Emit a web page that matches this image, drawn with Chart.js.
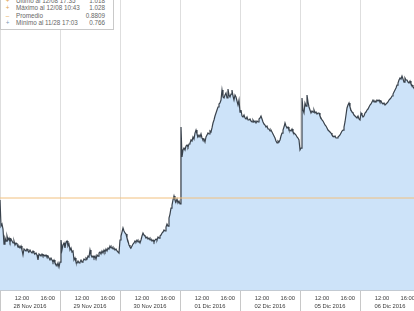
<!DOCTYPE html>
<html>
<head>
<meta charset="utf-8">
<script src="https://cdn.jsdelivr.net/npm/chart.js@4.4.1/dist/chart.umd.min.js"></script>
<style>
  html, body { margin: 0; padding: 0; background: #fff; }
  #wrap { position: relative; width: 414px; height: 311px; overflow: hidden; }
  #legend {
    position: absolute; left: 0; top: -3.25px; width: 112px;
    background: #fff; border: 1px solid #c9c9c9; border-top: 0;
    font: 6.3px "Liberation Sans", Arial, sans-serif; color: #666;
    padding: 0 0 2px 0;
  }
  #legend .row { position: relative; height: 7.5px; line-height: 7.5px; white-space: nowrap; }
  #legend .mk { position: absolute; left: 3px; width: 7px; text-align: center; }
  #legend .lbl { position: absolute; left: 15px; }
  #legend .val { position: absolute; right: 8px; }
</style>
</head>
<body>
<div id="wrap">
  <canvas id="priceChart" width="414" height="311"></canvas>
  <div id="legend">
    <div class="row"><span class="mk" style="color:#e0a050">+</span><span class="lbl">Último al 12/08 17:35</span><span class="val">1.018</span></div>
    <div class="row"><span class="mk" style="color:#e0a050">+</span><span class="lbl">Máximo al 12/08 10:43</span><span class="val">1.028</span></div>
    <div class="row"><span class="mk" style="color:#e8b468">–</span><span class="lbl">Promedio</span><span class="val">0.8809</span></div>
    <div class="row"><span class="mk" style="color:#7d97b3">+</span><span class="lbl">Mínimo al 11/28 17:03</span><span class="val">0.766</span></div>
  </div>
</div>
<script>
// trading days shown (one slot each, weekend skipped)
const dayLabels = ['28 Nov 2016', '29 Nov 2016', '30 Nov 2016', '01 Dic 2016', '02 Dic 2016', '05 Dic 2016', '06 Dic 2016'];
const hourLabels = ['12:00', '16:00'];
const hourValues = [12, 16];
const sessionOpen = 8.6;    // hour at the left edge of a day slot
const sessionSpan = 9.3;    // hours covered by one day slot
const samplesPerDay = 60;   // ~9 min sampling

const averagePrice = 0.8809;

const price28Nov = [0.8776, 0.8342, 0.8376, 0.8292, 0.8042, 0.8142, 0.8092, 0.8176, 0.8109, 0.8142,
  0.8076, 0.8126, 0.8092, 0.8059, 0.8092, 0.8026, 0.8059, 0.8042, 0.7992, 0.8009,
  0.7976, 0.8009, 0.7942, 0.7859, 0.7959, 0.7942, 0.7926, 0.7959, 0.7926, 0.7909,
  0.7942, 0.7909, 0.7892, 0.7926, 0.7892, 0.7876, 0.7892, 0.7859, 0.7776, 0.7876,
  0.7859, 0.7842, 0.7876, 0.7842, 0.7859, 0.7842, 0.7859, 0.7826, 0.7842, 0.7809,
  0.7776, 0.7809, 0.7776, 0.7742, 0.7776, 0.7726, 0.7709, 0.7676, 0.7726, 0.7659];

const price29Nov = [0.7742, 0.8109, 0.7942, 0.8026, 0.8059, 0.7976, 0.8076, 0.8092, 0.8009, 0.8042,
  0.7942, 0.7976, 0.7909, 0.7926, 0.7776, 0.7809, 0.7742, 0.7726, 0.7759, 0.7726,
  0.7742, 0.7776, 0.7742, 0.7759, 0.7792, 0.7776, 0.7809, 0.7792, 0.7842, 0.7826,
  0.7942, 0.7859, 0.7826, 0.7842, 0.7809, 0.7842, 0.7792, 0.7859, 0.7842, 0.7892,
  0.7909, 0.7876, 0.7926, 0.7892, 0.7942, 0.7909, 0.7959, 0.7926, 0.7976, 0.7959,
  0.8009, 0.7976, 0.7992, 0.7959, 0.7976, 0.7942, 0.7959, 0.7926, 0.7909, 0.7892];

const price30Nov = [0.8109, 0.8176, 0.8242, 0.8309, 0.8259, 0.8226, 0.8209, 0.8142, 0.8092, 0.8026,
  0.7992, 0.7976, 0.8009, 0.8042, 0.8059, 0.8092, 0.8076, 0.8109, 0.8076, 0.8092,
  0.8059, 0.8109, 0.8176, 0.8226, 0.8192, 0.8176, 0.8142, 0.8159, 0.8126, 0.8142,
  0.8109, 0.8126, 0.8092, 0.8109, 0.8076, 0.8109, 0.8126, 0.8109, 0.8159, 0.8142,
  0.8176, 0.8192, 0.8226, 0.8242, 0.8276, 0.8259, 0.8326, 0.8376, 0.8342, 0.8476,
  0.8542, 0.8642, 0.8692, 0.8776, 0.8842, 0.8776, 0.8742, 0.8792, 0.8726, 0.8759];

const price01Dic = [0.8709, 0.9992, 0.9492, 0.9609, 0.9642, 0.9609, 0.9676, 0.9692, 0.9659, 0.9709,
  0.9726, 0.9776, 0.9759, 0.9826, 0.9792, 0.9892, 0.9942, 0.9876, 0.9826, 0.9859,
  0.9826, 0.9876, 0.9809, 0.9776, 0.9792, 0.9742, 0.9826, 0.9859, 0.9892, 0.9876,
  0.9926, 0.9909, 0.9976, 1.0059, 1.0109, 1.0176, 1.0226, 1.0276, 1.0326, 1.0376,
  1.0392, 1.0442, 1.0609, 1.0492, 1.0476, 1.0526, 1.0559, 1.0476, 1.0626, 1.0526,
  1.0492, 1.0542, 1.0609, 1.0509, 1.0442, 1.0526, 1.0492, 1.0426, 1.0359, 1.0442];

const price02Dic = [1.0242, 1.0276, 1.0176, 1.0159, 1.0192, 1.0142, 1.0126, 1.0159, 1.0109, 1.0109,
  1.0126, 1.0092, 1.0076, 1.0109, 1.0076, 1.0092, 1.0059, 1.0092, 1.0076, 1.0126,
  1.0142, 1.0176, 1.0126, 1.0076, 1.0042, 1.0026, 0.9992, 1.0009, 0.9959, 0.9959,
  0.9926, 0.9942, 0.9909, 0.9876, 0.9842, 0.9809, 0.9759, 0.9726, 0.9759, 0.9742,
  0.9776, 0.9842, 0.9892, 0.9942, 0.9992, 1.0059, 1.0009, 0.9976, 0.9992, 0.9942,
  0.9942, 0.9926, 0.9959, 0.9909, 0.9892, 0.9876, 0.9859, 0.9826, 0.9809, 0.9776];

const price05Dic = [0.9609, 0.9642, 1.0476, 1.0276, 1.0226, 1.0392, 1.0342, 1.0526, 1.0409, 1.0326,
  1.0276, 1.0226, 1.0259, 1.0242, 1.0276, 1.0226, 1.0242, 1.0209, 1.0226, 1.0226,
  1.0176, 1.0142, 1.0109, 1.0092, 1.0059, 1.0026, 1.0009, 0.9976, 0.9942, 0.9926,
  0.9909, 0.9892, 0.9859, 0.9842, 0.9826, 0.9842, 0.9809, 0.9809, 0.9826, 0.9842,
  0.9859, 0.9892, 0.9926, 0.9942, 0.9992, 1.0076, 1.0192, 1.0309, 1.0359, 1.0392,
  1.0326, 1.0276, 1.0242, 1.0226, 1.0192, 1.0176, 1.0159, 1.0142, 1.0176, 1.0126];

const price06Dic = [1.0109, 1.0226, 1.0192, 1.0159, 1.0176, 1.0226, 1.0242, 1.0276, 1.0292, 1.0326,
  1.0359, 1.0376, 1.0409, 1.0442, 1.0409, 1.0426, 1.0409, 1.0442, 1.0426, 1.0442,
  1.0409, 1.0426, 1.0392, 1.0376, 1.0392, 1.0359, 1.0376, 1.0392, 1.0409, 1.0442,
  1.0459, 1.0476, 1.0509, 1.0542, 1.0576, 1.0609, 1.0642, 1.0692, 1.0726, 1.0776,
  1.0809, 1.0792, 1.0842, 1.0792, 1.0742, 1.0809, 1.0776, 1.0776, 1.0742, 1.0726,
  1.0759, 1.0709, 1.0692, 1.0659, 1.0642];

const dailyPrices = [price28Nov, price29Nov, price30Nov, price01Dic, price02Dic, price05Dic, price06Dic];

// build points: day slot index + position inside the session
const points = [];
dailyPrices.forEach((prices, d) => {
  prices.forEach((p, j) => points.push({ x: d + j / samplesPerDay, y: p }));
});
const xMax = points[points.length - 1].x;

const slot = h => (h - sessionOpen) / sessionSpan;
const xTicks = [];
dayLabels.forEach((label, d) => {
  xTicks.push({ value: d, kind: 'day', text: '' });
  xTicks.push({ value: d + slot(hourValues[0]), kind: 'hour', text: hourLabels[0] });
  xTicks.push({ value: d + 0.5, kind: 'date', text: ['', label] });
  xTicks.push({ value: d + slot(hourValues[1]), kind: 'hour', text: hourLabels[1] });
});
const visibleTicks = xTicks.filter(t => t.value <= xMax);

const tickFont = { family: '"Liberation Sans", Arial, sans-serif', size: 5.8, lineHeight: '8px' };

new Chart(document.getElementById('priceChart'), {
  type: 'line',
  data: {
    datasets: [
      {
        label: 'Promedio',
        data: [{ x: 0, y: averagePrice }, { x: xMax, y: averagePrice }],
        borderColor: '#f1c07e',
        borderWidth: 1,
        pointRadius: 0,
        fill: false
      },
      {
        label: 'Precio',
        data: points,
        borderColor: '#39424c',
        borderWidth: 1.2,
        pointRadius: 0,
        tension: 0,
        fill: 'start',
        backgroundColor: '#cde3f9'
      }
    ]
  },
  options: {
    responsive: false,
    animation: false,
    layout: { padding: 0, autoPadding: false },
    plugins: {
      legend: { display: false },
      tooltip: { enabled: false }
    },
    scales: {
      x: {
        type: 'linear',
        min: 0,
        max: xMax,
        z: 1,
        afterBuildTicks: axis => { axis.ticks = visibleTicks.map(t => ({ ...t })); },
        afterFit: axis => { axis.height = 21; axis.paddingLeft = 0; axis.paddingRight = 0; },
        ticks: {
          autoSkip: false,
          maxRotation: 0,
          minRotation: 0,
          padding: -17,
          color: '#3a3a3a',
          font: tickFont,
          callback: (v, i, ticks) => ticks[i].text
        },
        grid: {
          color: c => (c.tick && c.tick.kind === 'day') ? '#dedede' : 'rgba(0,0,0,0)',
          tickColor: c => (c.tick && c.tick.kind === 'day') ? '#c8c8c8' : 'rgba(0,0,0,0)',
          tickLength: 21,
          lineWidth: 1
        },
        border: { color: '#c3cad2' }
      },
      y: {
        display: false,
        min: 0.7276,
        max: 1.2109
      }
    }
  }
});
</script>
</body>
</html>
